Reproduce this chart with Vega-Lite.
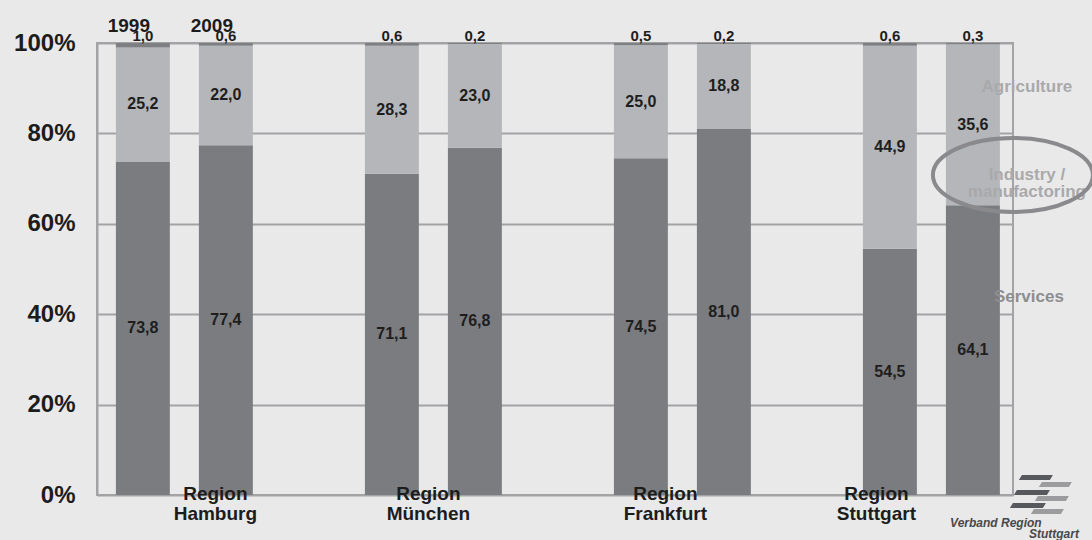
{
  "$schema": "https://vega.github.io/schema/vega-lite/v6.json",
  "width": 916,
  "height": 452,
  "autosize": {"type": "none"},
  "padding": {"left": 97, "top": 43, "right": 79, "bottom": 45},
  "background": "#e9e9ea",
  "config": {
    "font": "Liberation Sans",
    "view": {"stroke": "#a3a3a5", "strokeWidth": 2},
    "locale": {"number": {"decimal": ",", "thousands": ".", "grouping": [3], "currency": ["", " €"]}}
  },
  "datasets": {
    "shares": [
      {"region": "Hamburg", "year": "1999", "sector": "Services", "value": 73.8},
      {"region": "Hamburg", "year": "1999", "sector": "Industry", "value": 25.2},
      {"region": "Hamburg", "year": "1999", "sector": "Agriculture", "value": 1.0},
      {"region": "Hamburg", "year": "2009", "sector": "Services", "value": 77.4},
      {"region": "Hamburg", "year": "2009", "sector": "Industry", "value": 22.0},
      {"region": "Hamburg", "year": "2009", "sector": "Agriculture", "value": 0.6},
      {"region": "München", "year": "1999", "sector": "Services", "value": 71.1},
      {"region": "München", "year": "1999", "sector": "Industry", "value": 28.3},
      {"region": "München", "year": "1999", "sector": "Agriculture", "value": 0.6},
      {"region": "München", "year": "2009", "sector": "Services", "value": 76.8},
      {"region": "München", "year": "2009", "sector": "Industry", "value": 23.0},
      {"region": "München", "year": "2009", "sector": "Agriculture", "value": 0.2},
      {"region": "Frankfurt", "year": "1999", "sector": "Services", "value": 74.5},
      {"region": "Frankfurt", "year": "1999", "sector": "Industry", "value": 25.0},
      {"region": "Frankfurt", "year": "1999", "sector": "Agriculture", "value": 0.5},
      {"region": "Frankfurt", "year": "2009", "sector": "Services", "value": 81.0},
      {"region": "Frankfurt", "year": "2009", "sector": "Industry", "value": 18.8},
      {"region": "Frankfurt", "year": "2009", "sector": "Agriculture", "value": 0.2},
      {"region": "Stuttgart", "year": "1999", "sector": "Services", "value": 54.5},
      {"region": "Stuttgart", "year": "1999", "sector": "Industry", "value": 44.9},
      {"region": "Stuttgart", "year": "1999", "sector": "Agriculture", "value": 0.6},
      {"region": "Stuttgart", "year": "2009", "sector": "Services", "value": 64.1},
      {"region": "Stuttgart", "year": "2009", "sector": "Industry", "value": 35.6},
      {"region": "Stuttgart", "year": "2009", "sector": "Agriculture", "value": 0.3}
    ],
    "years": [
      {"region": "Hamburg", "year": "1999"},
      {"region": "Hamburg", "year": "2009"}
    ]
  },
  "encoding": {
    "x": {
      "field": "region",
      "type": "nominal",
      "sort": ["Hamburg", "München", "Frankfurt", "Stuttgart"],
      "scale": {"paddingInner": 0.45, "paddingOuter": 0.0643, "align": 0.59},
      "axis": {
        "title": null,
        "domain": false,
        "ticks": false,
        "zindex": 1,
        "labelAngle": 0,
        "labelExpr": "['Region', datum.label]",
        "labelFont": "Liberation Sans",
        "labelFontSize": 19,
        "labelFontWeight": "bold",
        "labelColor": "#1c1c1c",
        "labelLineHeight": 20,
        "labelPadding": -11,
        "labelOffset": {
          "condition": [
            {"test": "datum.value === 'Hamburg'", "value": 31},
            {"test": "datum.value === 'Frankfurt'", "value": -17},
            {"test": "datum.value === 'Stuttgart'", "value": -55}
          ],
          "value": -5
        }
      }
    },
    "xOffset": {
      "field": "year",
      "type": "nominal",
      "scale": {"paddingInner": 0.35, "paddingOuter": 0}
    },
    "y": {
      "type": "quantitative",
      "scale": {"domain": [0, 100], "nice": false},
      "axis": {
        "title": null,
        "values": [0, 20, 40, 60, 80, 100],
        "labelExpr": "datum.value + '%'",
        "labelFont": "Liberation Sans",
        "labelFontSize": 24,
        "labelFontWeight": "bold",
        "labelColor": "#1c1c1c",
        "labelPadding": 22,
        "ticks": false,
        "domainColor": "#a3a3a5",
        "domainWidth": 2,
        "gridColor": "#a3a3a5",
        "gridWidth": 2
      }
    }
  },
  "layer": [
    {
      "data": {"name": "shares"},
      "mark": {"type": "bar"},
      "encoding": {
        "y": {"field": "value", "type": "quantitative", "stack": "zero"},
        "order": {"field": "sector", "sort": "descending"},
        "color": {
          "field": "sector",
          "type": "nominal",
          "legend": null,
          "scale": {
            "domain": ["Agriculture", "Industry", "Services"],
            "range": ["#7e7f83", "#b5b6b9", "#7b7c80"]
          }
        }
      }
    },
    {
      "data": {"name": "shares"},
      "transform": [
        {"stack": "value", "groupby": ["region", "year"], "sort": [{"field": "sector", "order": "descending"}], "as": ["v0", "v1"]},
        {"calculate": "(datum.v0 + datum.v1) / 2", "as": "mid"},
        {"filter": "datum.sector !== 'Agriculture'"}
      ],
      "mark": {"type": "text", "font": "Liberation Sans", "fontSize": 16, "fontWeight": "bold", "color": "#1e1e1e", "baseline": "middle"},
      "encoding": {
        "y": {"field": "mid", "type": "quantitative"},
        "text": {"field": "value", "type": "quantitative", "format": ".1f"}
      }
    },
    {
      "data": {"name": "shares"},
      "transform": [{"filter": "datum.sector === 'Agriculture'"}],
      "mark": {"type": "text", "font": "Liberation Sans", "fontSize": 15, "fontWeight": "bold", "color": "#1e1e1e", "baseline": "alphabetic", "dy": -2},
      "encoding": {
        "y": {"datum": 100},
        "text": {"field": "value", "type": "quantitative", "format": ".1f"}
      }
    },
    {
      "data": {"name": "years"},
      "mark": {"type": "text", "font": "Liberation Sans", "fontSize": 19, "fontWeight": "bold", "color": "#1c1c1c", "baseline": "alphabetic", "dx": -14, "dy": -11},
      "encoding": {
        "y": {"datum": 100},
        "text": {"field": "year"}
      }
    },
    {
      "data": {"values": [{}]},
      "mark": {"type": "text", "font": "Liberation Sans", "fontSize": 17, "fontWeight": "bold", "color": "#a9a9ab", "baseline": "middle", "dx": 54},
      "encoding": {
        "x": {"datum": "Stuttgart"},
        "xOffset": {"datum": "2009"},
        "y": {"datum": 90.3},
        "text": {"value": "Agriculture"}
      }
    },
    {
      "data": {"values": [{}]},
      "mark": {"type": "text", "font": "Liberation Sans", "fontSize": 17, "fontWeight": "bold", "color": "#a9a9ab", "baseline": "middle", "lineHeight": 17, "dx": 54},
      "encoding": {
        "x": {"datum": "Stuttgart"},
        "xOffset": {"datum": "2009"},
        "y": {"datum": 70.9},
        "text": {"value": ["Industry /", "manufactoring"]}
      }
    },
    {
      "data": {"values": [{}]},
      "mark": {"type": "text", "font": "Liberation Sans", "fontSize": 17, "fontWeight": "bold", "color": "#8d8d90", "baseline": "middle", "dx": 56},
      "encoding": {
        "x": {"datum": "Stuttgart"},
        "xOffset": {"datum": "2009"},
        "y": {"datum": 43.8},
        "text": {"value": "Services"}
      }
    },
    {
      "data": {"values": [{}]},
      "mark": {
        "type": "point",
        "shape": "M -0.5 0 A 1 0.4625 0 1 1 1.5 0 A 1 0.4625 0 1 1 -0.5 0 Z",
        "size": 25600,
        "filled": false,
        "stroke": "#8a8a8d",
        "strokeWidth": 4,
        "opacity": 1
      },
      "encoding": {
        "x": {"datum": "Stuttgart"},
        "xOffset": {"datum": "2009"},
        "y": {"datum": 70.8}
      }
    },
    {
      "data": {"values": [{}]},
      "mark": {
        "type": "point",
        "shape": "M 1.38 -0.26 L 1.98 -0.26 L 1.92 -0.16 L 1.32 -0.16 Z M 1.30 0.02 L 1.92 0.02 L 1.86 0.12 L 1.24 0.12 Z M 1.22 0.28 L 1.82 0.28 L 1.76 0.38 L 1.16 0.38 Z",
        "size": 10000,
        "filled": true,
        "fill": "#9c9c9f",
        "strokeWidth": 0,
        "opacity": 1
      },
      "encoding": {
        "x": {"datum": "Stuttgart"},
        "xOffset": {"datum": "2009"},
        "y": {"datum": 0}
      }
    },
    {
      "data": {"values": [{}]},
      "mark": {
        "type": "point",
        "shape": "M 0.98 -0.40 L 1.60 -0.40 L 1.54 -0.30 L 0.92 -0.30 Z M 0.88 -0.10 L 1.54 -0.10 L 1.48 0 L 0.82 0 Z M 0.80 0.16 L 1.46 0.16 L 1.40 0.26 L 0.74 0.26 Z",
        "size": 10000,
        "filled": true,
        "fill": "#58595c",
        "strokeWidth": 0,
        "opacity": 1
      },
      "encoding": {
        "x": {"datum": "Stuttgart"},
        "xOffset": {"datum": "2009"},
        "y": {"datum": 0}
      }
    },
    {
      "data": {"values": [{}]},
      "mark": {"type": "text", "font": "Liberation Sans", "fontSize": 12, "fontWeight": "bold", "fontStyle": "italic", "color": "#48484a", "baseline": "alphabetic", "align": "center", "dx": 23, "dy": 32},
      "encoding": {
        "x": {"datum": "Stuttgart"},
        "xOffset": {"datum": "2009"},
        "y": {"datum": 0},
        "text": {"value": "Verband Region"}
      }
    },
    {
      "data": {"values": [{}]},
      "mark": {"type": "text", "font": "Liberation Sans", "fontSize": 12, "fontWeight": "bold", "fontStyle": "italic", "color": "#48484a", "baseline": "alphabetic", "align": "right", "dx": 106, "dy": 43},
      "encoding": {
        "x": {"datum": "Stuttgart"},
        "xOffset": {"datum": "2009"},
        "y": {"datum": 0},
        "text": {"value": "Stuttgart"}
      }
    }
  ]
}
